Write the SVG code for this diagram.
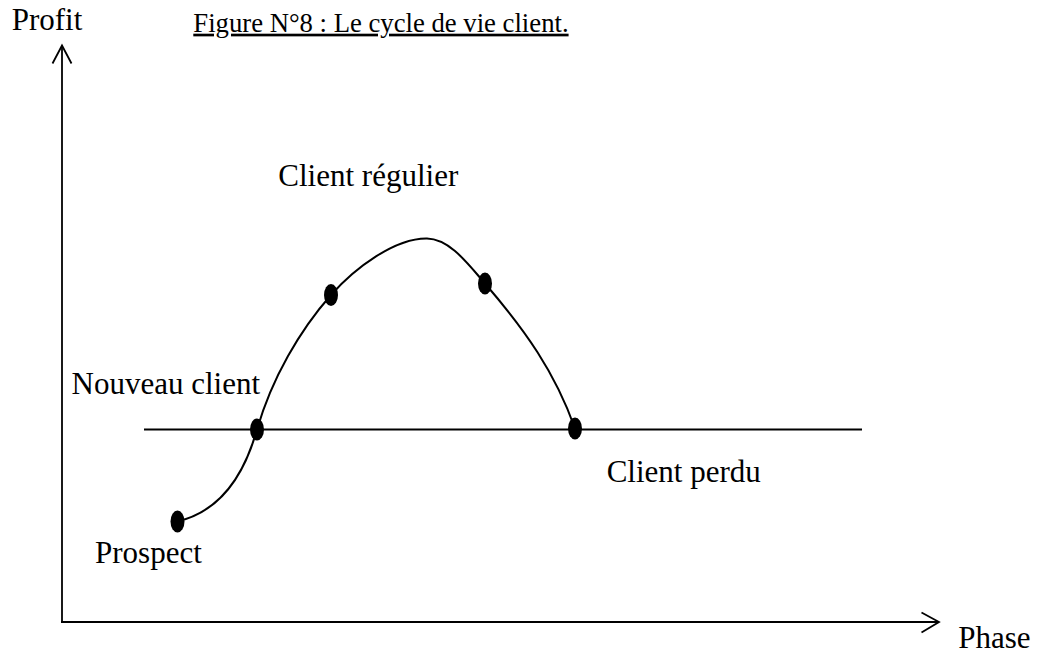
<svg xmlns="http://www.w3.org/2000/svg" width="1038" height="655" viewBox="0 0 1038 655">
  <style>
    .lbl { font-family: "Liberation Serif", "Times New Roman", serif; font-size: 31px; fill: #000; }
    .title { font-family: "Liberation Serif", "Times New Roman", serif; font-size: 26.7px; fill: #000; }
    .axis { stroke: #000; stroke-width: 1.8; fill: none; }
    .curve { stroke: #000; stroke-width: 2; fill: none; }
    .dot { fill: #000; }
  </style>
  <rect width="1038" height="655" fill="#fff"/>

  <!-- axes with open arrowheads -->
  <g id="axes">
    <line class="axis" x1="62" y1="46" x2="62" y2="623"/>
    <polyline class="axis" points="52.5,63.5 62,45.5 71.5,63.5"/>
    <line class="axis" x1="61" y1="622" x2="938" y2="622"/>
    <polyline class="axis" points="921.5,612.5 939,622 921.5,632.5"/>
  </g>

  <!-- break-even line and lifecycle curve -->
  <g id="connectors">
    <line class="axis" x1="144" y1="429.5" x2="862" y2="429.5"/>
    <path class="curve" d="M177,521.5 C210,514 240,490 257,429.5 C272,378 300,330 331,295 C355,268 395,238 427,238.5 C450,239 468,264 485,283.5 C525,330 555,372 575,428.5"/>
  </g>

  <!-- lifecycle stages -->
  <g id="prospect">
    <ellipse class="dot" cx="177.5" cy="521.5" rx="7" ry="11"/>
    <text class="lbl" x="95" y="563.3">Prospect</text>
  </g>
  <g id="nouveau-client">
    <ellipse class="dot" cx="257" cy="429.5" rx="7" ry="11"/>
    <text class="lbl" x="71.5" y="394.3">Nouveau client</text>
  </g>
  <g id="client-regulier">
    <ellipse class="dot" cx="331" cy="295" rx="7" ry="11"/>
    <ellipse class="dot" cx="485" cy="283.5" rx="7" ry="11"/>
    <text class="lbl" x="278.3" y="186">Client régulier</text>
  </g>
  <g id="client-perdu">
    <ellipse class="dot" cx="575" cy="428.5" rx="7" ry="11"/>
    <text class="lbl" x="606.7" y="481.7">Client perdu</text>
  </g>

  <!-- axis labels and caption -->
  <g id="labels">
    <text class="lbl" x="11.7" y="30">Profit</text>
    <text class="lbl" x="958.3" y="648">Phase</text>
    <text class="title" x="193.3" y="31.7" text-decoration="underline">Figure N°8 : Le cycle de vie client.</text>
  </g>
</svg>
